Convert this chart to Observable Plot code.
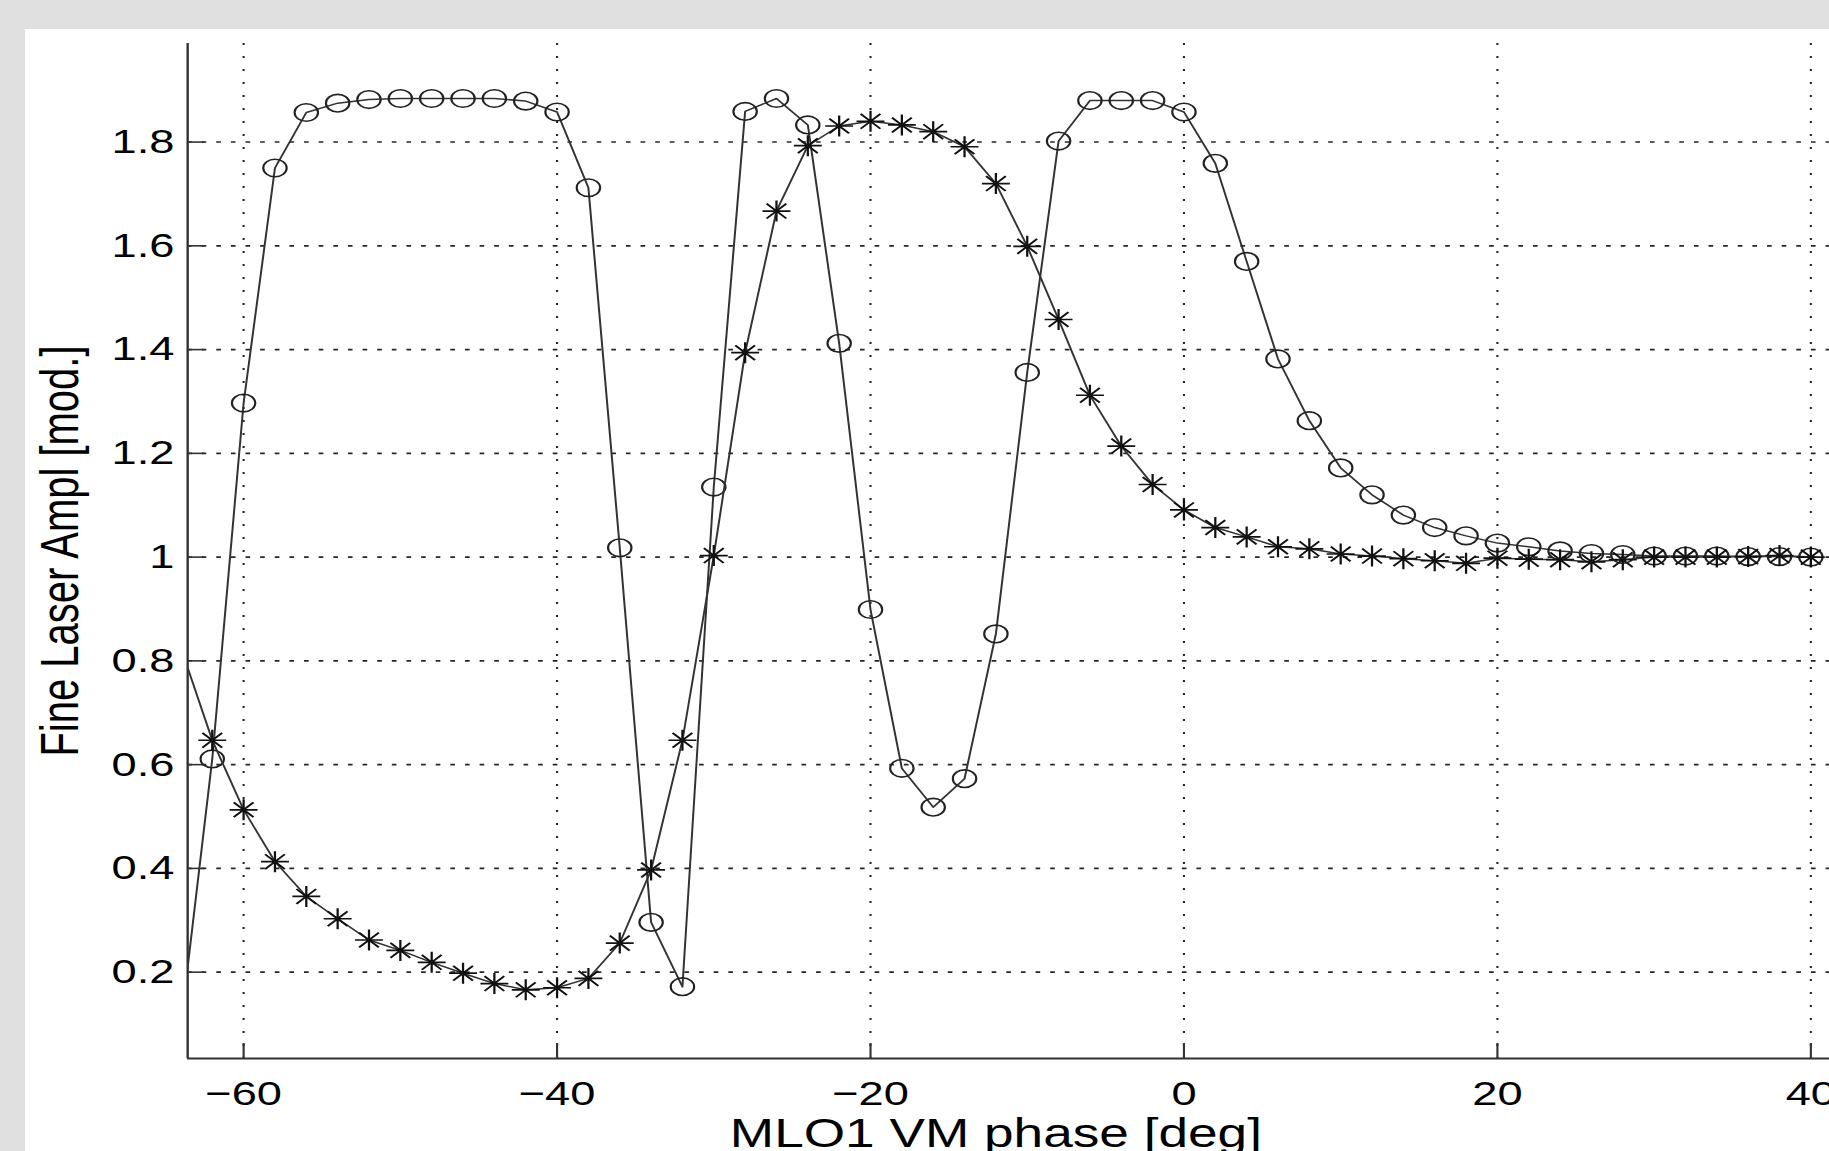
<!DOCTYPE html>
<html>
<head>
<meta charset="utf-8">
<script src="https://cdn.jsdelivr.net/npm/d3@7"></script>
<script src="https://cdn.jsdelivr.net/npm/@observablehq/plot@0.6"></script>
<style>
html, body { margin: 0; padding: 0; background: #e0e0e0; overflow: hidden; width: 1829px; height: 1151px; }
#panel { position: absolute; left: 25px; top: 29px; right: 0; bottom: 0; background: #ffffff; }
#chart { position: absolute; left: 0; top: 0; }
</style>
</head>
<body>
<div id="panel"></div>
<div id="chart"></div>
<script>
// ---- data ----
const phase = [-64, -62, -60, -58, -56, -54, -52, -50, -48, -46, -44, -42, -40, -38, -36, -34, -32, -30, -28, -26,
  -24, -22, -20, -18, -16, -14, -12, -10, -8, -6, -4, -2, 0, 2, 4, 6, 8, 10, 12, 14,
  16, 18, 20, 22, 24, 26, 28, 30, 32, 34, 36, 38, 40];

const circleSeries = [0.10, 0.611, 1.297, 1.750, 1.857, 1.875, 1.882, 1.884, 1.884, 1.884, 1.884, 1.879, 1.858, 1.712, 1.018, 0.296, 0.172, 1.135, 1.859, 1.884,
  1.833, 1.412, 0.899, 0.593, 0.518, 0.573, 0.852, 1.356, 1.802, 1.880, 1.880, 1.880, 1.858, 1.759, 1.570, 1.382, 1.263, 1.172, 1.120, 1.081,
  1.057, 1.041, 1.027, 1.020, 1.012, 1.007, 1.005, 1.002, 1.002, 1.002, 1.001, 1.001, 1.000];

const starSeries = [0.825, 0.647, 0.513, 0.413, 0.346, 0.303, 0.262, 0.242, 0.219, 0.198, 0.178, 0.166, 0.170, 0.188, 0.256, 0.397, 0.647, 1.003, 1.394, 1.667,
  1.793, 1.831, 1.840, 1.833, 1.820, 1.791, 1.720, 1.599, 1.458, 1.312, 1.214, 1.140, 1.091, 1.057, 1.039, 1.020, 1.016, 1.006, 1.002, 0.997,
  0.993, 0.988, 0.998, 0.996, 0.995, 0.991, 0.995, 1.000, 1.000, 1.000, 1.001, 1.003, 1.000];

const xTicks = [-60, -40, -20, 0, 20, 40];
const yTicks = [0.2, 0.4, 0.6, 0.8, 1.0, 1.2, 1.4, 1.6, 1.8];
const xLabel = "MLO1 VM phase [deg]";
const yLabel = "Fine Laser Ampl [mod.]";
const xLabelAt = -12;

// ---- layout ----
const K = 1.33;               // horizontal stretch of the original figure
const W = 1829, H = 1151;
const innerW = W / K;
const mLeft = 187 / K, mRight = 0, mTop = 43, mBottom = 93;
const xDomain = [-63.57, 41.2];
const yDomain = [0.0336, 1.99];

const pxPerY = (H - mTop - mBottom) / (yDomain[1] - yDomain[0]);
const pxPerX = (innerW - mLeft - mRight) / (xDomain[1] - xDomain[0]);
const xTickLen = 15 / pxPerY;      // inward tick length on x axis (data units)
const yTickLen = 13 / pxPerX;      // inward tick length on y axis (data units)

const rows = phase.map((p, i) => ({phase: p, circ: circleSeries[i], star: starSeries[i]}));
// markers whose centre lies outside the axes are not drawn (as in MATLAB)
const shown = rows.filter(d => d.phase >= xDomain[0] && d.phase <= xDomain[1]);

// MATLAB-style '*' marker: + and x superimposed
const asterisk8 = {
  draw(ctx, size) {
    const r = Math.sqrt(size / Math.PI);
    const d = r * Math.SQRT1_2;
    ctx.moveTo(-r, 0); ctx.lineTo(r, 0);
    ctx.moveTo(0, -r); ctx.lineTo(0, r);
    ctx.moveTo(-d, -d); ctx.lineTo(d, d);
    ctx.moveTo(-d, d); ctx.lineTo(d, -d);
  }
};

const font = "'Liberation Sans', Arial, Helvetica, sans-serif";

const chart = Plot.plot({
  width: innerW,
  height: H,
  marginLeft: mLeft,
  marginRight: mRight,
  marginTop: mTop,
  marginBottom: mBottom,
  x: {domain: xDomain, label: null},
  y: {domain: yDomain, label: null},
  style: {
    background: "transparent",
    fontFamily: font,
    fontSize: "34px",
    color: "#000",
    width: W + "px",
    height: H + "px",
    maxWidth: "none"
  },
  marks: [
    Plot.gridX(xTicks, {stroke: "#000", strokeOpacity: 0.85, strokeWidth: 1.6, strokeDasharray: "2,11"}),
    Plot.gridY(yTicks, {stroke: "#000", strokeOpacity: 0.85, strokeWidth: 1.6, strokeDasharray: "3.5,7.5"}),
    Plot.line(rows, {x: "phase", y: "circ", stroke: "#333", strokeWidth: 1.5, clip: true}),
    Plot.dot(shown, {x: "phase", y: "circ", r: 8.8, fill: "none", stroke: "#222", strokeWidth: 1.6, clip: true}),
    Plot.line(rows, {x: "phase", y: "star", stroke: "#333", strokeWidth: 1.5, clip: true}),
    Plot.dot(shown, {x: "phase", y: "star", r: 10.5, symbol: asterisk8, fill: "none", stroke: "#111", strokeWidth: 1.7, clip: true}),
    Plot.ruleX(xTicks, {x: d => d, y1: yDomain[0], y2: yDomain[0] + xTickLen, stroke: "#333", strokeWidth: 1.6}),
    Plot.ruleY(yTicks, {y: d => d, x1: xDomain[0], x2: xDomain[0] + yTickLen, stroke: "#333", strokeWidth: 1.6}),
    Plot.ruleX([xDomain[0]], {stroke: "#333", strokeWidth: 1.8}),
    Plot.ruleY([yDomain[0]], {stroke: "#333", strokeWidth: 1.8}),
    Plot.axisX(xTicks, {tickSize: 0, tickPadding: 22, fontSize: 34, label: null}),
    Plot.axisY(yTicks, {tickSize: 0, tickPadding: 10, fontSize: 34, label: null,
      tickFormat: d => String(+d.toFixed(1))}),
    Plot.text([xLabelAt], {x: d => d, text: () => xLabel, frameAnchor: "bottom",
      textAnchor: "middle", lineAnchor: "middle", dy: 76, fontSize: 40}),
    Plot.text([yLabel], {text: d => d, frameAnchor: "left", textAnchor: "middle",
      lineAnchor: "middle", rotate: -90, dx: -95, fontSize: 40})
  ]
});

chart.setAttribute("preserveAspectRatio", "none");
document.getElementById("chart").appendChild(chart);
</script>
</body>
</html>
